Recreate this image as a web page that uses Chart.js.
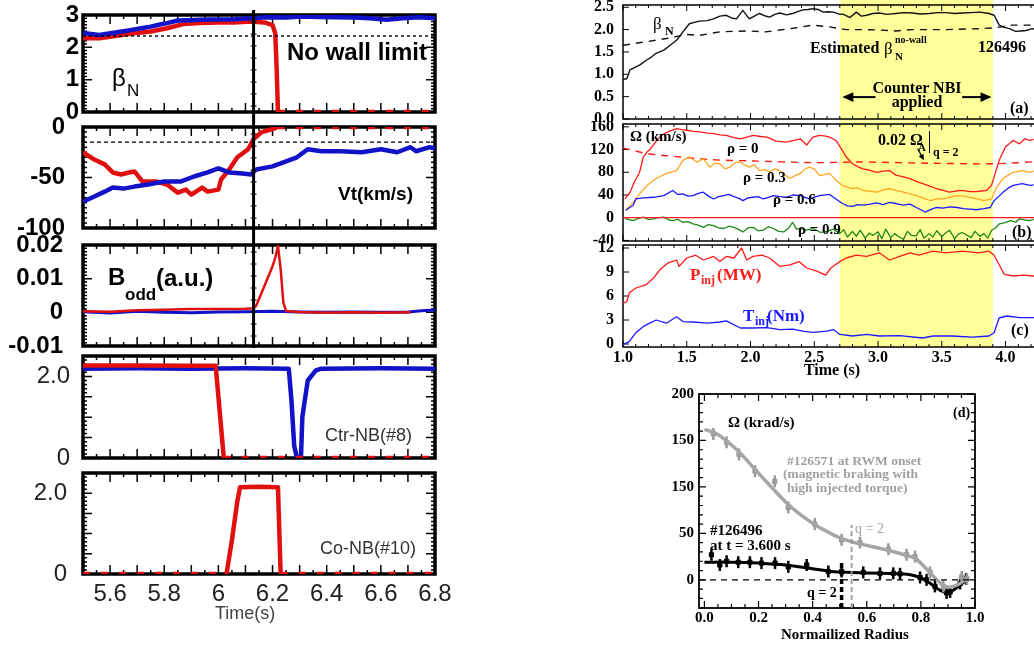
<!DOCTYPE html>
<html>
<head>
<meta charset="utf-8">
<script src="https://cdn.jsdelivr.net/npm/chart.js@4.4.0/dist/chart.umd.min.js"></script>
<style>
  html, body { margin: 0; padding: 0; background: #fff; }
  body { width: 1034px; height: 648px; position: relative; overflow: hidden; }
  canvas { position: absolute; }
  .t { position: absolute; white-space: nowrap; line-height: 1; }
  .sans { font-family: "Liberation Sans", Arial, sans-serif; }
  .serif { font-family: "Liberation Serif", "Times New Roman", serif; font-weight: bold; }
  .c { transform: translateX(-50%); }
</style>
</head>
<body>
<canvas id="p1"></canvas>
<canvas id="p2"></canvas>
<canvas id="p3"></canvas>
<canvas id="p4"></canvas>
<canvas id="p5"></canvas>
<canvas id="ra"></canvas>
<canvas id="rb"></canvas>
<canvas id="rc"></canvas>
<canvas id="rd"></canvas>

<!-- left column labels -->
<div class="t sans" style="left:287px; top:40px; font-size:24px; font-weight:bold;">No wall limit</div>
<div class="t sans" style="left:112px; top:66px; font-size:24px;">β</div>
<div class="t sans" style="left:127px; top:82px; font-size:17px;">N</div>
<div class="t sans" style="left:338px; top:184px; font-size:19px; font-weight:bold;">Vt(km/s)</div>
<div class="t sans" style="left:108px; top:265px; font-size:24px; font-weight:bold;">B</div>
<div class="t sans" style="left:125px; top:286px; font-size:17px; font-weight:bold;">odd</div>
<div class="t sans" style="left:156px; top:266px; font-size:24px; font-weight:bold;">(a.u.)</div>
<div class="t sans" style="left:325px; top:426px; font-size:18px; color:#333;">Ctr-NB(#8)</div>
<div class="t sans" style="left:320px; top:539px; font-size:18px; color:#333;">Co-NB(#10)</div>
<div class="t sans" style="left:215px; top:604px; font-size:18px; color:#444;">Time(s)</div>

<!-- right top labels -->
<div class="t serif" style="left:653px; top:15px; font-size:17px; font-weight:normal;">β</div>
<div class="t serif" style="left:665px; top:25px; font-size:12px;">N</div>
<div class="t serif" style="left:810px; top:40px; font-size:16px;">Estimated</div>
<div class="t serif" style="left:884px; top:40px; font-size:17px; font-weight:normal;">β</div>
<div class="t serif" style="left:895px; top:35px; font-size:10px;">no-wall</div>
<div class="t serif" style="left:895px; top:51px; font-size:11px;">N</div>
<div class="t serif" style="left:978px; top:39px; font-size:16px;">126496</div>
<div class="t serif c" style="left:917px; top:80px; font-size:16px;">Counter NBI</div>
<div class="t serif c" style="left:917px; top:94px; font-size:16px;">applied</div>
<div class="t serif" style="left:1010px; top:100px; font-size:16px;">(a)</div>

<div class="t serif" style="left:630px; top:129px; font-size:15px;">Ω (km/s)</div>
<div class="t serif" style="left:727px; top:141px; font-size:15px;">ρ = 0</div>
<div class="t serif" style="left:743px; top:170px; font-size:15px;">ρ = 0.3</div>
<div class="t serif" style="left:773px; top:192px; font-size:15px;">ρ = 0.6</div>
<div class="t serif" style="left:798px; top:222px; font-size:15px;">ρ = 0.9</div>
<div class="t serif" style="left:878px; top:132px; font-size:16px;">0.02 Ω</div>
<div class="t serif" style="left:918px; top:142px; font-size:11px;">A</div>
<div class="t" style="left:929px; top:131px; height:22px; border-left:1.5px solid #000;"></div>
<div class="t serif" style="left:933px; top:146px; font-size:12px;">q = 2</div>
<div class="t serif" style="left:1012px; top:224px; font-size:16px;">(b)</div>

<div class="t serif" style="left:690px; top:266px; font-size:17px; color:#ff1a1a;">P</div>
<div class="t serif" style="left:701px; top:274px; font-size:12px; color:#ff1a1a;">inj</div>
<div class="t serif" style="left:717px; top:266px; font-size:17px; color:#ff1a1a;">(MW)</div>
<div class="t serif" style="left:743px; top:307px; font-size:17px; color:#1a1aff;">T</div>
<div class="t serif" style="left:755px; top:315px; font-size:12px; color:#1a1aff;">inj</div>
<div class="t serif" style="left:767px; top:307px; font-size:17px; color:#1a1aff;">(Nm)</div>
<div class="t serif" style="left:1011px; top:322px; font-size:16px;">(c)</div>
<div class="t serif c" style="left:832px; top:362px; font-size:16px;">Time (s)</div>

<!-- panel d labels -->
<div class="t serif" style="left:728px; top:415px; font-size:15px;">Ω (krad/s)</div>
<div class="t serif" style="left:953px; top:406px; font-size:14px;">(d)</div>
<div class="t serif" style="left:787px; top:454px; font-size:13.5px; color:#a0a0a0;">#126571 at RWM onset</div>
<div class="t serif" style="left:783px; top:467px; font-size:13.5px; color:#a0a0a0;">(magnetic braking with</div>
<div class="t serif" style="left:787px; top:481px; font-size:13.5px; color:#a0a0a0;">high injected torque)</div>
<div class="t serif" style="left:710px; top:523px; font-size:15px;">#126496</div>
<div class="t serif" style="left:710px; top:538px; font-size:15px;">at t = 3.600 s</div>
<div class="t serif" style="left:855px; top:522px; font-size:14px; font-weight:normal; color:#a0a0a0;">q = 2</div>
<div class="t serif" style="left:807px; top:586px; font-size:14px;">q = 2</div>
<div class="t serif c" style="left:845px; top:627px; font-size:15px;">Normailized Radius</div>

<script>
// ---------- left column: shot data, time in s ----------
const tBetaBlue = [5.5,5.53,5.56,5.59,5.62,5.65,5.68,5.72,5.75,5.78,5.81,5.85,5.89,5.93,5.97,6.0,6.06,6.12,6.18,6.25,6.31,6.37,6.43,6.5,6.56,6.62,6.68,6.74,6.8];
const betaBlue = [2.44,2.41,2.38,2.42,2.46,2.5,2.54,2.6,2.64,2.7,2.75,2.83,2.84,2.85,2.86,2.86,2.87,2.9,2.93,2.92,2.95,2.94,2.93,2.92,2.9,2.85,2.9,2.93,2.9];
const tBetaRed = [5.5,5.56,5.62,5.68,5.75,5.81,5.87,5.93,6.0,6.06,6.12,6.17,6.2,6.21,6.215,6.22,6.8];
const betaRed = [2.28,2.28,2.35,2.43,2.49,2.59,2.72,2.75,2.77,2.77,2.8,2.77,2.69,2.43,1.4,0,0];
const noWallLimit = 2.35;

const tVtRed = [5.5,5.54,5.58,5.61,5.64,5.67,5.69,5.72,5.77,5.81,5.85,5.88,5.9,5.94,5.96,6.0,6.01,6.04,6.07,6.11,6.13,6.16,6.2,6.22,6.8];
const vtRed = [-25,-32,-37,-45,-47,-45,-44,-54,-54,-57,-65,-62,-67,-60,-64,-62,-52,-42,-30,-22,-12,-5,-2,0,0];
const tVtBlue = [5.5,5.54,5.58,5.61,5.65,5.69,5.74,5.8,5.86,5.91,5.96,6.0,6.04,6.09,6.12,6.14,6.2,6.25,6.29,6.33,6.38,6.45,6.53,6.6,6.66,6.71,6.73,6.78,6.8];
const vtBlue = [-74,-69,-64,-60,-61,-59,-57,-54,-54,-49,-45,-41,-45,-46,-47,-42,-39,-34,-30,-22,-24,-24,-25,-22,-25,-20,-24,-20,-21];
const vtRef = -15;

const tBoddRed = [5.5,5.6,5.7,5.8,5.9,6.0,6.1,6.13,6.14,6.17,6.2,6.21,6.22,6.23,6.24,6.25,6.3,6.4,6.5,6.6,6.71];
const boddRed = [0.0003,0.0002,0.0006,0.0008,0.001,0.001,0.0011,0.0012,0.002,0.0078,0.0137,0.0162,0.0197,0.0128,0.0029,0.0004,0.0001,-0.0001,0,-0.0001,0];
const tBoddBlue = [5.5,5.6,5.7,5.8,5.9,6.0,6.1,6.2,6.3,6.4,6.5,6.6,6.7,6.75,6.8];
const boddBlue = [0.0002,-0.0002,0.0003,0,-0.0001,0.0001,0.0002,0.0003,0.0001,0,0.0001,0,0.0001,0.0005,0.0007];

const tCtrRed = [5.5,5.7,5.9,5.99,6.02,6.8];
const ctrRed = [2.27,2.27,2.26,2.26,0,0];
const tCtrBlue = [5.5,5.7,5.9,6.1,6.26,6.27,6.28,6.29,6.305,6.31,6.33,6.36,6.38,6.6,6.8];
const ctrBlue = [2.19,2.2,2.19,2.2,2.19,1.4,0.3,0,0,1.0,1.9,2.15,2.19,2.2,2.19];
const tCoRed = [5.5,6.03,6.05,6.07,6.08,6.15,6.22,6.23,6.8];
const coRed = [0,0,0.84,1.8,2.15,2.16,2.15,0,0];

const rwmTime = 6.13;

// ---------- right column: shot 126496 ----------
const tBetaN = [1.0,1.03,1.055,1.09,1.133,1.185,1.22,1.26,1.32,1.37,1.42,1.47,1.52,1.56,1.60,1.66,1.71,1.76,1.81,1.85,1.89,1.94,1.99,2.03,2.07,2.11,2.15,2.19,2.23,2.28,2.33,2.37,2.41,2.45,2.49,2.53,2.57,2.61,2.65,2.69,2.73,2.78,2.83,2.87,2.91,2.96,3.01,3.07,3.14,3.2,3.27,3.33,3.40,3.47,3.53,3.6,3.66,3.73,3.80,3.87,3.91,3.95,3.99,4.03,4.08,4.12,4.16,4.21,4.27];
const betaN = [0.89,0.9,1.1,1.15,1.21,1.32,1.38,1.47,1.54,1.65,1.76,1.95,2.13,2.16,2.19,2.2,2.24,2.3,2.32,2.26,2.24,2.43,2.24,2.3,2.36,2.31,2.28,2.34,2.37,2.33,2.36,2.4,2.44,2.45,2.47,2.45,2.39,2.4,2.39,2.35,2.34,2.27,2.39,2.3,2.32,2.36,2.37,2.34,2.36,2.38,2.37,2.35,2.36,2.38,2.38,2.36,2.37,2.38,2.39,2.36,2.32,2.10,2.05,2.02,1.96,1.97,1.98,2.02,2.0];
const tNoWall = [1.0,1.185,1.34,1.50,1.60,1.76,1.97,2.12,2.23,2.36,2.49,2.62,2.75,2.88,3.01,3.14,3.27,3.53,3.80,3.92,4.05,4.18,4.27];
const betaNoWall = [1.65,1.73,1.80,1.89,1.87,1.95,1.97,1.95,1.99,2.04,2.10,2.06,2.0,2.0,1.99,1.97,2.0,2.0,2.02,2.04,2.10,2.10,2.08];

const tRho0 = [1.016,1.055,1.09,1.13,1.16,1.19,1.21,1.26,1.3,1.36,1.42,1.46,1.5,1.55,1.6,1.66,1.71,1.76,1.81,1.87,1.92,1.97,2.02,2.08,2.13,2.2,2.28,2.34,2.39,2.44,2.49,2.54,2.58,2.62,2.67,2.71,2.75,2.8,2.84,2.88,2.93,2.99,3.04,3.09,3.14,3.2,3.25,3.3,3.35,3.4,3.46,3.51,3.56,3.61,3.66,3.72,3.77,3.81,3.85,3.89,3.91,3.95,4.0,4.06,4.11,4.15,4.19,4.22];
const omegaRho0 = [33,45,63,80,107,116,120,135,145,152,157,155,154,152,151,149,148,146,145,141,139,142,145,143,142,135,133,136,139,128,142,145,144,142,136,122,107,95,90,86,84,80,82,83,75,72,69,64,60,56,51,48,45,47,48,46,46,47,48,57,72,101,125,136,130,139,136,138];
const tRho3 = [1.02,1.08,1.13,1.19,1.26,1.34,1.42,1.47,1.52,1.58,1.63,1.68,1.72,1.76,1.8,1.84,1.88,1.92,1.96,1.99,2.03,2.07,2.11,2.15,2.19,2.23,2.27,2.31,2.35,2.39,2.43,2.46,2.5,2.54,2.58,2.62,2.67,2.72,2.76,2.8,2.84,2.88,2.93,2.99,3.04,3.09,3.14,3.2,3.25,3.3,3.35,3.41,3.46,3.51,3.56,3.62,3.67,3.72,3.78,3.83,3.89,3.93,3.98,4.02,4.06,4.13,4.19,4.22];
const omegaRho3 = [13,27,42,57,69,78,83,101,107,98,104,89,96,95,86,89,97,98,92,89,93,83,85,80,86,83,75,69,74,78,86,89,86,74,76,78,66,57,54,51,53,48,47,45,49,51,48,45,42,39,35,30,33,33,36,39,38,36,33,30,33,54,69,75,80,83,80,82];
const tRho6 = [1.02,1.08,1.10,1.16,1.24,1.32,1.39,1.43,1.47,1.51,1.55,1.59,1.63,1.67,1.71,1.75,1.79,1.83,1.87,1.91,1.94,1.98,2.02,2.06,2.10,2.14,2.18,2.23,2.28,2.33,2.39,2.46,2.54,2.62,2.67,2.72,2.76,2.80,2.84,2.88,2.94,2.99,3.04,3.09,3.14,3.20,3.25,3.30,3.37,3.42,3.46,3.51,3.56,3.62,3.67,3.72,3.77,3.83,3.88,3.91,3.95,3.98,4.02,4.06,4.13,4.19,4.22];
const omegaRho6 = [13,22,33,35,36,39,48,41,42,38,39,43,45,38,33,37,39,41,37,34,30,35,36,37,33,36,39,37,36,40,39,33,39,41,33,25,21,20,23,22,24,26,23,27,25,22,24,18,10,15,18,17,19,18,16,15,14,16,18,30,38,45,52,57,60,57,58];
const tRho9 = [1.02,1.08,1.12,1.16,1.2,1.24,1.28,1.32,1.36,1.39,1.43,1.47,1.51,1.55,1.59,1.63,1.67,1.71,1.75,1.79,1.83,1.87,1.91,1.94,1.98,2.02,2.06,2.10,2.14,2.18,2.22,2.26,2.30,2.33,2.36,2.39,2.44,2.49,2.55,2.60,2.65,2.70,2.73,2.76,2.80,2.83,2.86,2.90,2.93,2.96,3.0,3.03,3.06,3.1,3.13,3.16,3.2,3.23,3.26,3.3,3.33,3.36,3.4,3.43,3.46,3.5,3.53,3.56,3.6,3.63,3.66,3.7,3.73,3.76,3.8,3.83,3.86,3.89,3.92,3.95,3.99,4.04,4.08,4.11,4.15,4.19,4.22];
const omegaRho9 = [-2,-5,-1,1,-3,-2,0,1,-4,-5,-3,-8,-7,-11,-13,-17,-12,-14,-18,-19,-15,-17,-21,-25,-18,-17,-23,-22,-16,-19,-24,-25,-18,-8,-20,-19,-22,-19,-26,-24,-20,-28,-21,-34,-24,-33,-22,-36,-27,-31,-25,-37,-20,-35,-28,-33,-38,-24,-31,-32,-21,-36,-28,-34,-23,-33,-27,-22,-37,-29,-26,-31,-35,-24,-33,-28,-36,-22,-18,-11,-9,-5,-8,-2,-4,-5,-3];
const tOmegaA = [1.0,1.19,1.45,1.71,2.0,2.5,2.86,3.4,3.9,4.27];
const omegaA = [123,113,107,102,100,97,98,96,95,99];

const tPinj = [1.0,1.03,1.05,1.1,1.18,1.24,1.29,1.35,1.42,1.44,1.5,1.57,1.63,1.71,1.76,1.81,1.87,1.93,1.97,2.02,2.09,2.15,2.23,2.31,2.38,2.44,2.52,2.59,2.63,2.70,2.75,2.83,2.91,3.01,3.09,3.17,3.25,3.32,3.43,3.53,3.66,3.79,3.87,3.91,3.95,3.99,4.06,4.14,4.21,4.27];
const pInj = [5.1,5.3,6.4,7.0,7.4,8.25,9.3,10.1,10.5,9.7,10.75,11.1,10.5,10.95,10.3,10.95,10.75,12.0,10.5,10.95,11.1,10.75,9.7,9.9,10.3,9.5,9.1,8.6,9.5,10.3,10.75,11.1,10.95,11.4,10.5,10.95,11.4,11.1,11.6,11.4,11.6,11.4,11.6,11.1,9.9,8.7,8.5,8.6,8.5,8.5];
const tTinj = [1.0,1.05,1.1,1.16,1.21,1.26,1.34,1.42,1.47,1.55,1.66,1.76,1.81,1.92,2.02,2.13,2.23,2.33,2.41,2.49,2.6,2.65,2.70,2.80,2.91,3.01,3.17,3.35,3.43,3.58,3.74,3.87,3.91,3.95,4.01,4.11,4.21,4.27];
const tInj = [-0.1,0.33,1.4,2.2,2.6,3.0,2.6,3.4,2.8,2.75,2.6,2.75,2.9,2.0,2.0,2.05,1.8,1.85,1.6,1.45,1.6,1.8,1.2,1.0,1.2,1.0,1.05,0.75,1.0,1.0,0.85,1.0,1.4,3.25,3.5,3.3,3.3,3.3];

const nbiWindow = [2.7, 3.9];

// ---------- panel (d): rotation profiles ----------
const rGrayFit = [0.0,0.04,0.08,0.13,0.19,0.25,0.31,0.36,0.41,0.46,0.51,0.57,0.63,0.69,0.75,0.78,0.83,0.87,0.9,0.93,0.96,0.98];
const omegaGrayFit = [162,158,150,137,118,99,81,69,59,51,44,39,35,31,26,23,9,-3,-8,-6,-1,1];
const rGrayPts = [0.033,0.082,0.128,0.187,0.26,0.31,0.408,0.507,0.575,0.68,0.747,0.778,0.834,0.883,0.951,0.97];
const omegaGrayPts = [157,148,135,117,106,78,60,43,40,33,27,25,8,-7,3,1];
const rBlackFit = [0.0,0.1,0.2,0.3,0.4,0.47,0.55,0.65,0.75,0.8,0.84,0.87,0.9,0.93,0.96,0.98];
const omegaBlackFit = [19,19,18,16,12,9,8,7,6,2,-5,-11,-14,-9,-2,1];
const rBlackPts = [0.026,0.057,0.082,0.125,0.168,0.211,0.261,0.31,0.378,0.458,0.507,0.587,0.649,0.698,0.723,0.797,0.821,0.852,0.895,0.908,0.945,0.967];
const omegaBlackPts = [27,16,20,19,19,18,18,14,16,9,9,8,7,7,6.5,2.5,0,-7,-14,-13,-4,1];
const qRadiusBlack = 0.507, qRadiusGray = 0.544;
const dYTickText = { 0: '0', 50: '50', 100: '150', 150: '150', 200: '200' };

// ---------- helpers ----------
const SANS = "'Liberation Sans', Arial, sans-serif";
const SERIF = "'Liberation Serif', 'Times New Roman', serif";
const RED = '#e01010', BLUE = '#1212c8';

function series(xs, ys, color, width, extra) {
    return Object.assign({
        data: xs.map((x, i) => ({ x: x, y: ys[i] })),
        borderColor: color, backgroundColor: color, borderWidth: width,
        pointRadius: 0, fill: false, tension: 0, borderJoinStyle: 'round'
    }, extra || {});
}
const dashAtZero = {
    segment: { borderDash: c => (c.p0.parsed.y === 0 && c.p1.parsed.y === 0) ? [7, 11] : undefined }
};

// inner tick marks + frame box, drawn under the curves
const framePlugin = {
    id: 'frame',
    beforeDatasetsDraw(chart, args, o) {
        const { ctx, chartArea: a } = chart;
        const x = chart.scales.x, y = chart.scales.y;
        const marks = (scale, n) => {
            const majors = scale.ticks.map(t => t.value);
            const out = majors.map(v => [v, o.major]);
            if (n > 1 && majors.length > 1) {
                const step = (majors[1] - majors[0]) / n;
                for (let k = Math.ceil(scale.min / step - 1e-6); k * step <= scale.max + 1e-9; k++) {
                    const v = k * step;
                    if (!majors.some(m => Math.abs(m - v) < step / 10)) out.push([v, o.minor]);
                }
            }
            return out;
        };
        ctx.save();
        ctx.strokeStyle = '#000';
        ctx.lineWidth = o.tickWidth;
        ctx.beginPath();
        marks(x, o.xMinor).forEach(([v, len]) => {
            const px = x.getPixelForValue(v);
            ctx.moveTo(px, a.bottom); ctx.lineTo(px, a.bottom - len);
            ctx.moveTo(px, a.top); ctx.lineTo(px, a.top + len);
        });
        marks(y, o.yMinor).forEach(([v, len]) => {
            const py = y.getPixelForValue(v);
            ctx.moveTo(a.left, py); ctx.lineTo(a.left + len, py);
            ctx.moveTo(a.right, py); ctx.lineTo(a.right - len, py);
        });
        ctx.stroke();
        ctx.lineWidth = o.width;
        ctx.strokeRect(a.left, a.top, a.right - a.left, a.bottom - a.top);
        ctx.restore();
    }
};

// shaded time window (counter NBI)
const bandPlugin = {
    id: 'band',
    beforeDatasetsDraw(chart, args, o) {
        if (o.from === undefined) return;
        const { ctx, chartArea: a, scales: { x } } = chart;
        const x0 = x.getPixelForValue(o.from), x1 = x.getPixelForValue(o.to);
        ctx.save();
        ctx.fillStyle = o.color;
        ctx.fillRect(x0, a.top - o.up, x1 - x0, a.bottom - a.top + o.up + o.down);
        ctx.restore();
    }
};

// vertical marker for RWM onset time
const eventLinePlugin = {
    id: 'eventLine',
    afterDatasetsDraw(chart, args, o) {
        if (o.at === undefined) return;
        const { ctx, chartArea: a, scales: { x } } = chart;
        const px = x.getPixelForValue(o.at);
        ctx.save();
        ctx.strokeStyle = '#000';
        ctx.lineWidth = 3;
        ctx.beginPath();
        ctx.moveTo(px, a.top - o.up); ctx.lineTo(px, a.bottom + o.down);
        ctx.stroke();
        ctx.lineWidth = 1.2;
        ctx.beginPath();
        for (let yy = a.top + 7; yy < a.bottom - 3; yy += 12) { ctx.moveTo(px - 3, yy); ctx.lineTo(px + 3, yy); }
        ctx.stroke();
        ctx.restore();
    }
};

const arrowPlugin = {
    id: 'arrows',
    afterDatasetsDraw(chart, args, o) {
        if (!o.list) return;
        const { ctx, scales: { x, y } } = chart;
        o.list.forEach(ar => {
            const x0 = x.getPixelForValue(ar.from[0]), y0 = y.getPixelForValue(ar.from[1]);
            const x1 = x.getPixelForValue(ar.to[0]), y1 = y.getPixelForValue(ar.to[1]);
            const ang = Math.atan2(y1 - y0, x1 - x0), h = ar.head, c = Math.cos(ang), s = Math.sin(ang);
            ctx.save();
            ctx.strokeStyle = ctx.fillStyle = '#000';
            ctx.lineWidth = ar.width;
            ctx.beginPath(); ctx.moveTo(x0, y0); ctx.lineTo(x1 - c * h * 0.8, y1 - s * h * 0.8); ctx.stroke();
            ctx.beginPath();
            ctx.moveTo(x1, y1);
            ctx.lineTo(x1 - h * c + h * 0.45 * s, y1 - h * s - h * 0.45 * c);
            ctx.lineTo(x1 - h * c - h * 0.45 * s, y1 - h * s + h * 0.45 * c);
            ctx.closePath(); ctx.fill();
            ctx.restore();
        });
    }
};

function panel(id, o) {
    const cv = document.getElementById(id);
    const xh = o.xAxisHeight || 0;
    const top = o.area[1] - o.padTop;
    const w = o.area[2] + o.padRight - o.left;
    const h = o.area[3] + xh + o.padBottom - top;
    cv.width = w; cv.height = h;
    Object.assign(cv.style, { left: o.left + 'px', top: top + 'px', width: w + 'px', height: h + 'px' });
    const axis = (extra, fit) => {
        const ax = Object.assign({
            type: 'linear',
            grid: { display: false, drawTicks: false },
            border: { display: false },
            afterFit: fit
        }, extra);
        ax.ticks = Object.assign({ includeBounds: false, autoSkip: false, maxRotation: 0 }, extra.ticks);
        return ax;
    };
    return new Chart(cv, {
        type: 'line',
        data: { datasets: o.datasets },
        options: {
            responsive: false, animation: false, devicePixelRatio: 1, events: [],
            layout: { autoPadding: false, padding: { left: 0, right: o.padRight, top: o.padTop, bottom: o.padBottom } },
            plugins: {
                legend: { display: false }, tooltip: { enabled: false },
                frame: o.frame, band: o.band || {}, eventLine: o.eventLine || {}, arrows: o.arrows || {}
            },
            scales: {
                x: axis(o.x, s => { s.height = xh; s.paddingLeft = 0; s.paddingRight = 0; }),
                y: axis(o.y, s => { s.width = o.area[0] - o.left; s.paddingTop = 0; s.paddingBottom = 0; })
            }
        },
        plugins: [bandPlugin, framePlugin, eventLinePlugin, arrowPlugin]
    });
}

// ---------- left column ----------
const leftFrame = { width: 3.5, major: 9, minor: 4, tickWidth: 1.5, xMinor: 2, yMinor: 10 };
const leftFrameNB = { width: 3.5, major: 9, minor: 4, tickWidth: 1.5, xMinor: 2, yMinor: 5 };
const leftX = (show) => ({
    min: 5.5, max: 6.8,
    ticks: {
        display: show, stepSize: 0.1, padding: 6, color: '#222',
        font: { family: SANS, size: 24 },
        callback: v => (Math.round(v * 10) % 2 === 0 ? String(Math.round(v * 10) / 10) : '')
    }
});
const boldY = (min, max, step, pad, cb) => ({
    min: min, max: max,
    ticks: { stepSize: step, padding: pad, color: '#000', font: { family: SANS, size: 24, weight: 'bold' }, callback: cb }
});
const nbY = (pad) => ({
    min: 0, max: 2.5,
    ticks: {
        stepSize: 0.5, padding: pad, color: '#222', font: { family: SANS, size: 24 },
        callback: v => (v === 0 ? '0' : (Math.abs(v - 2) < 1e-9 ? '2.0' : ''))
    }
});
const L = { left: 0, padRight: 25, padTop: 14, padBottom: 14 };

panel('p1', Object.assign({}, L, {
    area: [83, 15, 435, 112],
    x: leftX(false), y: boldY(0, 3, 1, 4, v => String(v)),
    frame: leftFrame, eventLine: { at: rwmTime, up: 5, down: 8 },
    datasets: [
        series([5.5, 6.8], [noWallLimit, noWallLimit], '#000', 1.4, { borderDash: [3, 3] }),
        series(tBetaBlue, betaBlue, BLUE, 4.5),
        series(tBetaRed, betaRed, RED, 4.5, dashAtZero)
    ]
}));

panel('p2', Object.assign({}, L, {
    area: [83, 127, 435, 228],
    x: leftX(false), y: boldY(-100, 0, 50, 18, v => String(v)),
    frame: leftFrame, eventLine: { at: rwmTime, up: 8, down: 9 },
    datasets: [
        series([5.5, 6.8], [vtRef, vtRef], '#000', 1.2, { borderDash: [4, 3] }),
        series(tVtBlue, vtBlue, BLUE, 4.5),
        series(tVtRed, vtRed, RED, 4.5, dashAtZero)
    ]
}));

panel('p3', Object.assign({}, L, {
    area: [83, 245, 435, 346],
    x: leftX(false),
    y: boldY(-0.01, 0.02, 0.01, 20, v => { const r = Math.round(v * 100) / 100; return r === 0 ? '0' : String(r); }),
    frame: leftFrame, eventLine: { at: rwmTime, up: 9, down: 2 },
    datasets: [
        series(tBoddRed, boddRed, RED, 2.5),
        series(tBoddBlue, boddBlue, BLUE, 3)
    ]
}));

panel('p4', Object.assign({}, L, {
    area: [83, 356, 435, 458],
    x: leftX(false), y: nbY(13),
    frame: leftFrameNB,
    datasets: [
        series(tCtrRed, ctrRed, RED, 4.5, dashAtZero),
        series(tCtrBlue, ctrBlue, BLUE, 4.5)
    ]
}));

panel('p5', Object.assign({}, L, {
    area: [83, 473, 435, 574], xAxisHeight: 36, padBottom: 2,
    x: leftX(true), y: nbY(16),
    frame: leftFrameNB,
    datasets: [
        series(tCoRed, coRed, RED, 4.5, dashAtZero)
    ]
}));

// ---------- right column, panels (a)-(c) ----------
const rightFrame = { width: 1.5, major: 6, minor: 3, tickWidth: 1, xMinor: 5, yMinor: 1 };
const rightX = (show) => ({
    min: 1.0, max: 4.27,
    ticks: {
        display: show, stepSize: 0.5, padding: 1, color: '#000',
        font: { family: SERIF, size: 16, weight: 'bold' }, callback: v => v.toFixed(1)
    }
});
const rightY = (min, max, step, cb) => ({
    min: min, max: max,
    ticks: { stepSize: step, padding: 9, color: '#000', font: { family: SERIF, size: 16, weight: 'bold' }, callback: cb }
});
const band = (up, down) => ({ from: nbiWindow[0], to: nbiWindow[1], color: '#ffff99', up: up, down: down });
const R = { left: 570, padRight: 10 };

panel('ra', Object.assign({}, R, {
    area: [623, 5, 1040, 119], padTop: 5, padBottom: 3,
    x: rightX(false), y: rightY(0, 2.55, 0.5, v => v.toFixed(1)),
    frame: rightFrame, band: band(5, 2.5),
    arrows: { list: [
        { from: [2.98, 0.49], to: [2.72, 0.49], head: 11, width: 2 },
        { from: [3.66, 0.49], to: [3.89, 0.49], head: 11, width: 2 }
    ] },
    datasets: [
        series(tNoWall, betaNoWall, '#111', 1.4, { borderDash: [7, 6] }),
        series(tBetaN, betaN, '#111', 1.4)
    ]
}));

panel('rb', Object.assign({}, R, {
    area: [623, 124, 1040, 241], padTop: 3, padBottom: 2,
    x: rightX(false), y: rightY(-41, 165, 40, v => String(v)),
    frame: rightFrame, band: band(2.5, 2),
    arrows: { list: [{ from: [3.31, 122], to: [3.36, 101], head: 6, width: 1.2 }] },
    datasets: [
        series([1.0, 4.27], [0, 0], '#ff1a1a', 1.2),
        series(tRho9, omegaRho9, '#1a8a1a', 1.3),
        series(tRho6, omegaRho6, '#1a1aff', 1.3),
        series(tRho3, omegaRho3, '#ffa620', 1.3),
        series(tOmegaA, omegaA, '#ff1a1a', 1.4, { borderDash: [7, 6], tension: 0.3 }),
        series(tRho0, omegaRho0, '#ff1a1a', 1.3)
    ]
}));

panel('rc', Object.assign({}, R, {
    area: [623, 245, 1040, 347], padTop: 2, padBottom: 2, xAxisHeight: 22,
    x: rightX(true), y: rightY(-0.375, 12.375, 3, v => String(v)),
    frame: rightFrame, band: band(2, 0),
    datasets: [
        series(tPinj, pInj, '#ff1a1a', 1.3),
        series(tTinj, tInj, '#1a1aff', 1.3)
    ]
}));

// ---------- panel (d) ----------
panel('rd', {
    left: 650, padRight: 15, padTop: 10, padBottom: 2, xAxisHeight: 22,
    area: [699, 394, 975, 608],
    x: {
        min: -0.02, max: 1.0,
        ticks: { stepSize: 0.2, padding: 1, color: '#000',
                 font: { family: SERIF, size: 15, weight: 'bold' }, callback: v => v.toFixed(1) }
    },
    y: {
        min: -30.3, max: 200,
        ticks: { stepSize: 50, padding: 5, color: '#000',
                 font: { family: SERIF, size: 15, weight: 'bold' }, callback: v => dYTickText[Math.round(v)] || '' }
    },
    frame: { width: 1.8, major: 7, minor: 4, tickWidth: 1.2, xMinor: 4, yMinor: 5 },
    datasets: [
        series([-0.02, 1.0], [0, 0], '#000', 1.2, { borderDash: [6, 5] }),
        series([qRadiusGray, qRadiusGray], [-30.3, 59], '#9a9a9a', 1.8, { borderDash: [5, 3] }),
        series([qRadiusBlack, qRadiusBlack], [-30.3, 21], '#000', 3.5, { borderDash: [5, 3] }),
        series(rGrayFit, omegaGrayFit, '#a6a6a6', 3.5, { tension: 0.35 }),
        series(rGrayPts, omegaGrayPts, '#9a9a9a', 2.5, { showLine: false, pointStyle: 'line', rotation: 90, pointRadius: 6 }),
        series(rGrayPts, omegaGrayPts, '#9a9a9a', 1, { showLine: false, pointStyle: 'rect', pointRadius: 3 }),
        series(rBlackFit, omegaBlackFit, '#000', 3, { tension: 0.35 }),
        series(rBlackPts, omegaBlackPts, '#000', 2.5, { showLine: false, pointStyle: 'line', rotation: 90, pointRadius: 6 }),
        series(rBlackPts, omegaBlackPts, '#000', 1, { showLine: false, pointStyle: 'rect', pointRadius: 3 })
    ]
});
</script>
</body>
</html>
